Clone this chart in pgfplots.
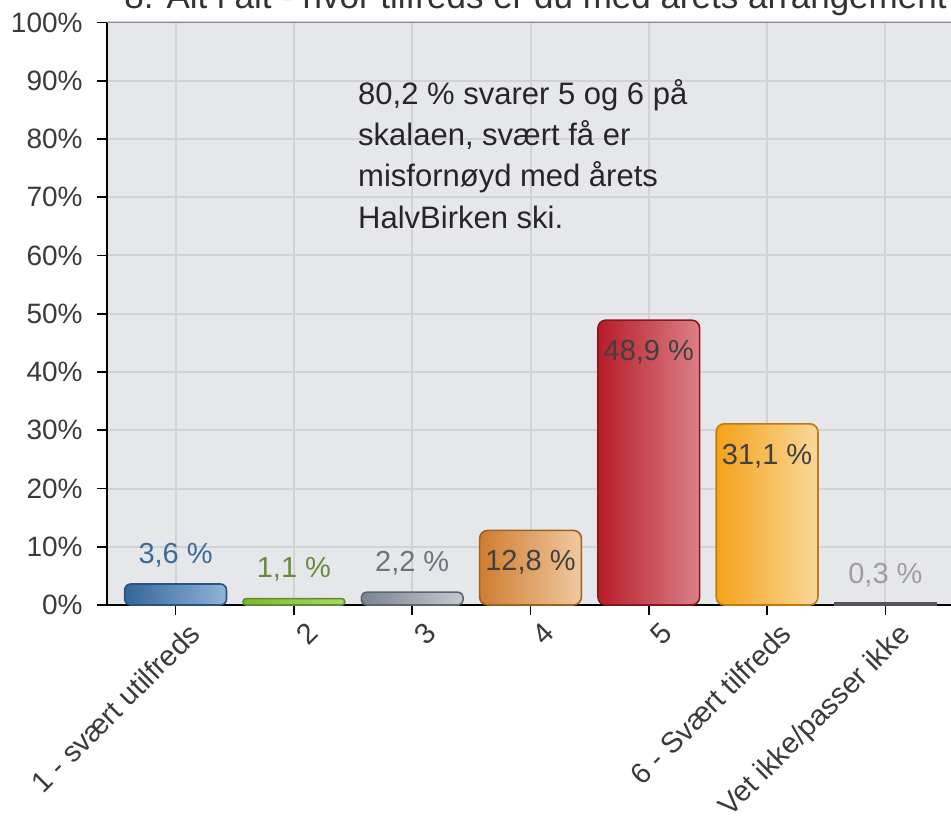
\documentclass[border=0pt]{standalone}
\usepackage{pgfplots}
\pgfplotsset{compat=1.18}
\usepackage{fontspec}
\setmainfont{Liberation Sans}

\definecolor{plotbg}{HTML}{E5E7EA}
\definecolor{gridc}{HTML}{D1D2D4}
\definecolor{ticktxt}{HTML}{3A3A3A}
% bar colours (dark edge / left / right)
\definecolor{b1e}{HTML}{2B527D}\definecolor{b1l}{HTML}{336699}\definecolor{b1r}{HTML}{8FB4D8}
\definecolor{b2e}{HTML}{5F8F2A}\definecolor{b2l}{HTML}{7DB935}\definecolor{b2r}{HTML}{A8D66A}
\definecolor{b3e}{HTML}{5C6570}\definecolor{b3l}{HTML}{7A8593}\definecolor{b3r}{HTML}{C3C9D0}
\definecolor{b4e}{HTML}{A0601F}\definecolor{b4l}{HTML}{CF7C30}\definecolor{b4r}{HTML}{F0C9A0}
\definecolor{b5e}{HTML}{8A1520}\definecolor{b5l}{HTML}{B71C28}\definecolor{b5r}{HTML}{DC8088}
\definecolor{b6e}{HTML}{C07A10}\definecolor{b6l}{HTML}{F4A21A}\definecolor{b6r}{HTML}{FAD89A}
\definecolor{b7e}{HTML}{555555}\definecolor{b7l}{HTML}{6A6A6A}\definecolor{b7r}{HTML}{9A9A9A}

\begin{document}
\begin{tikzpicture}
  % page = 951 x 834 px, 1 px = 0.5pt
  \path[use as bounding box] (-53.5pt,-114.5pt) rectangle (422pt,302.5pt);

  \begin{axis}[
      at={(0,0)}, anchor=south west,
      scale only axis,
      width=423.5pt, height=291.25pt,
      xmin=-0.58, xmax=6.58,
      ymin=0, ymax=100,
      axis background/.style={fill=plotbg},
      axis x line*=bottom, axis y line*=left,
      axis line style={black, line width=0.8pt, -},
      xtick={0,...,6},
      xticklabels={1 - svært utilfreds, 2, 3, 4, 5, 6 - Svært tilfreds, Vet ikke/passer ikke},
      ytick={0,10,...,100},
      yticklabels={0\%,10\%,20\%,30\%,40\%,50\%,60\%,70\%,80\%,90\%,100\%},
      tick align=outside,
      major tick length=5pt,
      tick style={black, line width=0.8pt},
      grid=major,
      major grid style={draw=gridc, line width=1pt},
      xticklabel style={rotate=45, anchor=north east, inner sep=0pt,
                        xshift=2pt, yshift=-6pt,
                        font=\fontsize{14.5}{15}\selectfont, text=ticktxt},
      yticklabel style={anchor=east, inner sep=0pt, xshift=-7pt,
                        font=\fontsize{14}{15}\selectfont, text=ticktxt},
      ybar, bar shift=0pt, bar width=0.86,
      nodes near coords style={font=\fontsize{14.5}{15}\selectfont},
      clip=false,
    ]

    % labels above the small bars
    \addplot[draw=b1e, line width=0.8pt, left color=b1l, right color=b1r, rounded corners=3pt,
      nodes near coords={3,6 \%},
      every node near coord/.append style={anchor=center, yshift=14.5pt, text=b1l!85!gray}]
      coordinates {(0,3.6)};
    \addplot[draw=b2e, line width=0.8pt, left color=b2l, right color=b2r, rounded corners=1.5pt,
      nodes near coords={1,1 \%},
      every node near coord/.append style={anchor=center, yshift=14.5pt, text=b2e!80!gray}]
      coordinates {(1,1.1)};
    \addplot[draw=b3e, line width=0.8pt, left color=b3l, right color=b3r, rounded corners=2.5pt,
      nodes near coords={2,2 \%},
      every node near coord/.append style={anchor=center, yshift=14.5pt, text=b3e!90!white}]
      coordinates {(2,2.2)};

    % labels inside the tall bars
    \addplot[draw=b4e, line width=0.8pt, left color=b4l, right color=b4r, rounded corners=4pt,
      nodes near coords={12,8 \%},
      every node near coord/.append style={anchor=center, yshift=-16pt, text=black!75}]
      coordinates {(3,12.8)};
    \addplot[draw=b5e, line width=0.8pt, left color=b5l, right color=b5r, rounded corners=4pt,
      nodes near coords={48,9 \%},
      every node near coord/.append style={anchor=center, yshift=-16pt, text=black!75}]
      coordinates {(4,48.9)};
    \addplot[draw=b6e, line width=0.8pt, left color=b6l, right color=b6r, rounded corners=4pt,
      nodes near coords={31,1 \%},
      every node near coord/.append style={anchor=center, yshift=-16pt, text=black!75}]
      coordinates {(5,31.1)};

    \addplot[draw=b7e, line width=0.8pt, left color=b7l, right color=b7r,
      nodes near coords={0,3 \%},
      every node near coord/.append style={anchor=center, yshift=14pt, text=black!38}]
      coordinates {(6,0.3)};

    % annotation text
    \node[anchor=base west, inner sep=0pt, font=\fontsize{15.5}{16}\selectfont, text=black!85]
      at (axis cs:1.54,85.9) {80,2 \% svarer 5 og 6 på};
    \node[anchor=base west, inner sep=0pt, font=\fontsize{15.5}{16}\selectfont, text=black!85]
      at (axis cs:1.54,78.9) {skalaen, svært få er};
    \node[anchor=base west, inner sep=0pt, font=\fontsize{15.5}{16}\selectfont, text=black!85]
      at (axis cs:1.54,71.8) {misfornøyd med årets};
    \node[anchor=base west, inner sep=0pt, font=\fontsize{15.5}{16}\selectfont, text=black!85]
      at (axis cs:1.54,64.6) {HalvBirken ski.};

    % top frame line and (cropped) title
    \draw[black!45, line width=0.8pt] (axis cs:-0.58,100) -- (axis cs:6.58,100);
    \node[anchor=base west, inner sep=0pt, font=\fontsize{17.5}{18}\selectfont, text=black!80]
      at ([xshift=8.5pt, yshift=7pt]rel axis cs:0,1)
      {8. Alt i alt - hvor tilfreds er du med årets arrangement?};
  \end{axis}
\end{tikzpicture}
\end{document}
